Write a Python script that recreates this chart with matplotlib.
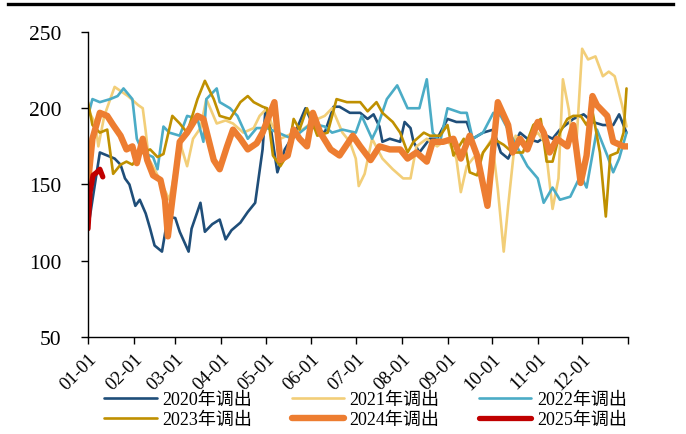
import matplotlib
matplotlib.use("Agg")
import matplotlib.pyplot as plt
from matplotlib.lines import Line2D

# ---------------- data (day of year, value) ----------------
month_labels = ["01-01", "02-01", "03-01", "04-01", "05-01", "06-01",
                "07-01", "08-01", "09-01", "10-01", "11-01", "12-01"]
month_days = [0, 31, 59, 90, 120, 151, 181, 212, 243, 273, 304, 334]
year_end = 365

d2020 = [0, 8, 18, 22, 25, 28, 32, 35, 39, 42, 45, 50, 54, 59, 62, 68, 70, 76, 79, 84, 89, 93, 97,
         103, 108, 113, 118, 120, 124, 128, 133, 140, 147, 153, 160, 166, 170, 177, 184, 189, 193,
         197, 199, 204, 211, 214, 218, 220, 224, 231, 236, 243, 249, 256, 260, 267, 274, 279, 284,
         292, 297, 304, 310, 314, 319, 328, 335, 341, 348, 355, 359, 364]
v2020 = [121, 171, 167, 163, 154, 150, 136, 140, 131, 121, 110, 106, 129, 128, 119, 106, 121, 138,
         119, 124, 127, 114, 120, 125, 132, 138, 173, 200, 184, 158, 173, 184, 200, 187, 184, 201,
         201, 197, 197, 193, 196, 188, 178, 180, 178, 191, 187, 178, 171, 180, 180, 193, 191, 191,
         180, 184, 186, 171, 167, 184, 180, 178, 182, 180, 186, 193, 196, 191, 189, 189, 196, 184]

d2021 = [0, 5, 7, 11, 18, 27, 34, 37, 39, 41, 45, 50, 55, 59, 62, 67, 71, 76, 80, 87, 93, 98, 105,
         112, 116, 121, 124, 130, 137, 145, 153, 160, 165, 172, 177, 181, 183, 187, 192, 199, 206,
         213, 218, 222, 229, 236, 243, 249, 252, 256, 261, 266, 273, 277, 281, 284, 289, 295, 304,
         309, 314, 318, 321, 325, 327, 330, 334, 338, 343, 348, 352, 356, 361, 364]
v2021 = [199, 190, 175, 195, 214, 208, 202, 200, 185, 167, 160, 150, 140, 160, 178, 162, 180, 187,
         206, 190, 192, 190, 184, 187, 195, 200, 190, 180, 183, 186, 192, 195, 200, 184, 178, 167,
         149, 157, 180, 167, 160, 154, 154, 175, 180, 175, 180, 167, 145, 162, 168, 169, 180, 147,
         106, 136, 182, 177, 184, 177, 134, 154, 219, 199, 180, 175, 239, 232, 234, 221, 224, 221,
         202, 188]

d2022 = [0, 3, 8, 15, 20, 24, 30, 33, 37, 44, 47, 51, 55, 62, 67, 74, 78, 80, 87, 89, 96, 101, 108,
         114, 121, 126, 138, 151, 160, 165, 172, 181, 185, 192, 195, 202, 209, 216, 224, 229, 233,
         238, 243, 252, 256, 260, 267, 274, 279, 285, 292, 297, 304, 308, 314, 319, 326, 333, 337,
         344, 351, 355, 359, 364]
v2022 = [195, 206, 204, 206, 208, 213, 206, 180, 171, 168, 160, 188, 184, 182, 195, 193, 178, 206,
         213, 204, 200, 195, 180, 187, 187, 185, 180, 190, 188, 184, 186, 184, 195, 180, 186, 206,
         215, 200, 200, 219, 184, 178, 200, 197, 197, 180, 184, 197, 195, 184, 171, 162, 154, 138,
         148, 140, 142, 156, 148, 186, 169, 158, 167, 184]

d2023 = [0, 3, 8, 13, 17, 22, 26, 30, 35, 42, 47, 51, 57, 62, 67, 74, 79, 85, 89, 96, 103, 108, 112,
         118, 121, 125, 130, 135, 139, 143, 148, 155, 162, 168, 175, 184, 189, 195, 199, 206, 211,
         216, 220, 227, 231, 238, 243, 247, 254, 258, 263, 267, 274, 281, 287, 294, 301, 306, 310,
         314, 319, 324, 328, 333, 337, 341, 346, 350, 353, 358, 362, 364]
v2023 = [204, 189, 184, 186, 157, 163, 165, 163, 170, 173, 168, 170, 195, 190, 184, 206, 218, 206,
         195, 193, 204, 208, 204, 201, 200, 169, 162, 170, 193, 186, 200, 182, 184, 206, 204, 204,
         198, 204, 197, 191, 184, 171, 178, 184, 182, 182, 189, 169, 180, 158, 156, 171, 180, 176,
         171, 171, 189, 193, 165, 165, 184, 193, 195, 195, 189, 198, 171, 129, 169, 171, 184, 213]

d2024 = [0, 3, 8, 13, 17, 22, 26, 30, 33, 37, 40, 44, 49, 52, 54, 57, 62, 67, 74, 78, 85, 89, 94,
         98, 103, 108, 114, 118, 126, 130, 135, 139, 143, 148, 152, 157, 164, 170, 179, 184, 191,
         197, 204, 211, 216, 222, 229, 233, 240, 247, 252, 258, 263, 270, 277, 284, 287, 292, 297,
         304, 308, 312, 317, 324, 328, 333, 337, 341, 344, 351, 355, 362, 365]
v2024 = [151, 180, 197, 195, 189, 182, 173, 175, 164, 180, 166, 156, 153, 140, 116, 140, 178, 184,
         195, 193, 166, 160, 175, 186, 180, 173, 177, 184, 204, 166, 169, 186, 180, 175, 197, 184,
         173, 169, 182, 175, 166, 175, 173, 173, 167, 171, 165, 178, 178, 180, 167, 182, 169, 136,
         204, 189, 171, 180, 173, 191, 184, 171, 180, 175, 189, 151, 169, 208, 202, 195, 178, 175,
         175]

d2025 = [0, 1.4, 3.4, 6, 8, 10]
v2025 = [121, 145, 156, 158, 160, 155]

series = [
    ("2020年调出", d2020, v2020, "#1F4E79", 1.9),
    ("2021年调出", d2021, v2021, "#F2CE78", 1.9),
    ("2022年调出", d2022, v2022, "#4BACC6", 1.9),
    ("2023年调出", d2023, v2023, "#BF9000", 1.9),
    ("2024年调出", d2024, v2024, "#ED7D31", 4.6),
    ("2025年调出", d2025, v2025, "#C00000", 3.8),
]

# ---------------- figure ----------------
plt.rcParams['font.family'] = ['Liberation Serif', 'Noto Sans CJK SC', 'DejaVu Sans']
fig = plt.figure(figsize=(6.86, 4.35), dpi=100)
ax = fig.add_axes([88 / 686, 1 - 338 / 435, (628 - 88) / 686, (338 - 33) / 435])

handles = []
for name, d, v, c, lw in series:
    h, = ax.plot(d, v, color=c, lw=lw, label=name, solid_capstyle='round', solid_joinstyle='round')
    handles.append(h)

ax.set_xlim(0, year_end)
ax.set_ylim(50, 250)
ax.set_yticks([50, 100, 150, 200, 250])
ax.tick_params(axis='y', direction='out', length=5, width=1, pad=14, labelsize=15.5)
ax.set_xticks(month_days + [year_end])
ax.set_xticklabels(month_labels + [""], rotation=45, ha='right', rotation_mode='anchor')
ax.tick_params(axis='x', direction='out', length=5, width=1, pad=4, labelsize=13.5)

for s in ['top', 'right']:
    ax.spines[s].set_visible(False)
for s in ['left', 'bottom']:
    ax.spines[s].set_color('black')
    ax.spines[s].set_linewidth(1.0)

# legend filled row-wise: matplotlib fills columns, so reorder
order = [0, 3, 1, 4, 2, 5]
leg = fig.legend([handles[i] for i in order], [series[i][0] for i in order],
                 loc='upper left', bbox_to_anchor=(97 / 686, 1 - 385 / 435), ncol=3,
                 frameon=False, fontsize=13, handlelength=2.9, handletextpad=0.3,
                 columnspacing=2.2, labelspacing=0.15, borderaxespad=0)

# top black rule
fig.add_artist(Line2D([8 / 686, 673 / 686], [1 - 5 / 435, 1 - 5 / 435], color='black', lw=2.4))

fig.savefig("out.png", dpi=100)
